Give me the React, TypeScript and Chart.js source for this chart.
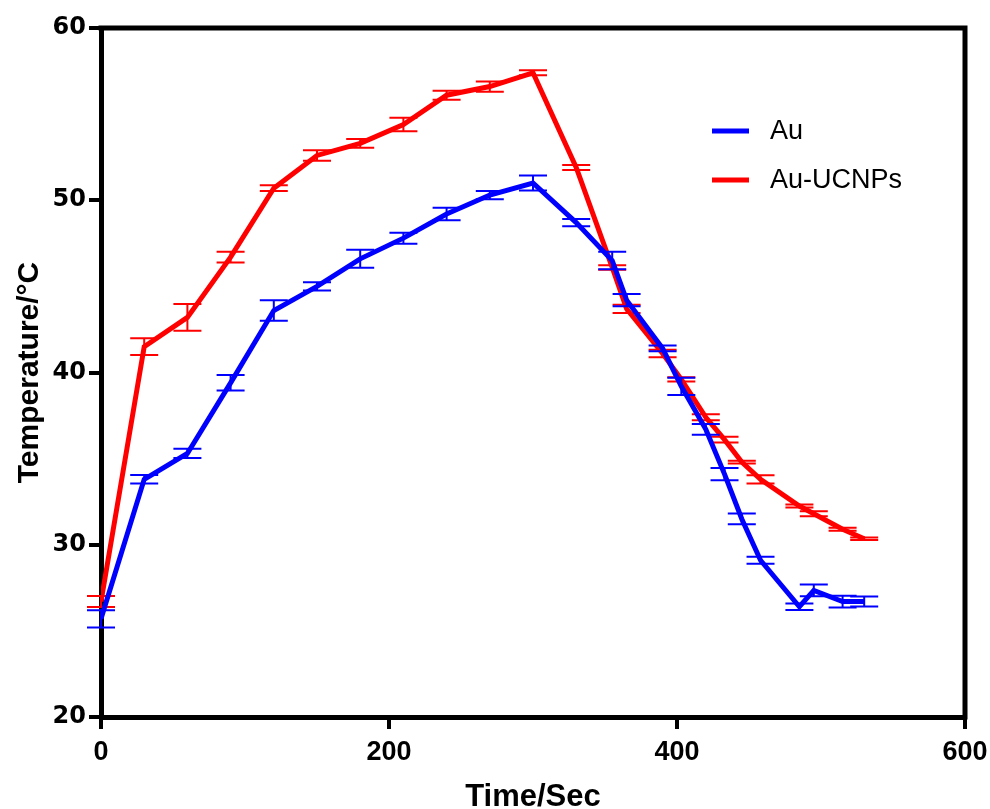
import React, { useEffect, useRef } from "react";
import { Chart, registerables } from "chart.js";

Chart.register(...registerables);

// ---- data ----
const timeSec = [0, 30, 60, 90, 120, 150, 180, 210, 240, 270, 300, 330, 355, 365, 390, 403, 420, 433, 445, 458, 485, 495, 515, 530];
const auTemp = [25.7, 33.8, 35.3, 39.4, 43.6, 45.0, 46.6, 47.8, 49.2, 50.3, 51.0, 48.7, 46.5, 44.2, 41.4, 39.2, 36.7, 34.1, 31.5, 29.1, 26.4, 27.35, 26.7, 26.7];
const auErr = [0.5, 0.25, 0.27, 0.45, 0.6, 0.24, 0.52, 0.32, 0.36, 0.24, 0.44, 0.21, 0.51, 0.36, 0.17, 0.5, 0.31, 0.36, 0.31, 0.21, 0.19, 0.34, 0.34, 0.29];
const ucnpTemp = [26.7, 41.5, 43.2, 46.7, 50.7, 52.6, 53.3, 54.4, 56.1, 56.6, 57.4, 51.9, 46.1, 43.7, 41.1, 39.6, 37.4, 36.1, 34.8, 33.8, 32.25, 31.8, 30.9, 30.35];
const ucnpErr = [0.32, 0.49, 0.77, 0.31, 0.17, 0.3, 0.25, 0.39, 0.26, 0.3, 0.15, 0.15, 0.13, 0.24, 0.22, 0.12, 0.17, 0.17, 0.08, 0.24, 0.09, 0.15, 0.09, 0.07];
const seriesLabels = ["Au", "Au-UCNPs"];
const seriesColors = ["#0000ff", "#ff0000"];
const xTickValues = [0, 200, 400, 600];
const yTickValues = [20, 30, 40, 50, 60];
const xTitle = "Time/Sec";
const yTitle = "Temperature/\u00B0C";

const errorBarPlugin = {
  id: "errorBars",
  afterDatasetDraw(chart: any, args: any) {
    const ds: any = chart.data.datasets[args.index];
    const errs: number[] = ds.errors;
    if (!errs) return;
    const xs = chart.scales.x;
    const ys = chart.scales.y;
    const ctx = chart.ctx;
    ctx.save();
    ctx.strokeStyle = ds.borderColor;
    ctx.lineWidth = 2;
    const half = 14;
    ds.data.forEach((p: any, i: number) => {
      const e = errs[i];
      const px = xs.getPixelForValue(p.x);
      const top = ys.getPixelForValue(p.y + e);
      const bot = ys.getPixelForValue(p.y - e);
      ctx.beginPath();
      ctx.moveTo(px, top);
      ctx.lineTo(px, bot);
      ctx.moveTo(px - half, top);
      ctx.lineTo(px + half, top);
      ctx.moveTo(px - half, bot);
      ctx.lineTo(px + half, bot);
      ctx.stroke();
    });
    ctx.restore();
  },
};

const framePlugin = {
  id: "frame",
  afterDraw(chart: any) {
    const { ctx, chartArea } = chart;
    ctx.save();
    ctx.strokeStyle = "#000";
    ctx.lineWidth = 5;
    ctx.beginPath();
    ctx.moveTo(chartArea.left - 2.5, chartArea.top);
    ctx.lineTo(chartArea.right, chartArea.top);
    ctx.lineTo(chartArea.right, chartArea.bottom + 2.5);
    ctx.stroke();
    ctx.restore();
  },
};

const legendPlugin = {
  id: "innerLegend",
  afterDraw(chart: any) {
    const ctx = chart.ctx;
    const x0 = 712;
    const y0 = 131;
    const rowGap = 49;
    ctx.save();
    ctx.font = "27px 'Liberation Sans', Arial, sans-serif";
    ctx.textBaseline = "middle";
    ctx.textAlign = "left";
    chart.data.datasets.forEach((ds: any, i: number) => {
      const y = y0 + i * rowGap;
      ctx.strokeStyle = ds.borderColor;
      ctx.lineWidth = 5;
      ctx.beginPath();
      ctx.moveTo(x0, y);
      ctx.lineTo(x0 + 37, y);
      ctx.stroke();
      ctx.fillStyle = "#000";
      ctx.fillText(ds.label, x0 + 58, y + 1);
    });
    ctx.restore();
  },
};

export default function App() {
  const ref = useRef<HTMLCanvasElement | null>(null);

  useEffect(() => {
    if (!ref.current) return;
    const mk = (vals: number[]) => timeSec.map((t, i) => ({ x: t, y: vals[i] }));
    const chart = new Chart(ref.current, {
      type: "line",
      data: {
        datasets: [
          {
            label: seriesLabels[0],
            data: mk(auTemp),
            errors: auErr,
            borderColor: seriesColors[0],
            backgroundColor: seriesColors[0],
            borderWidth: 5,
            pointRadius: 0,
            fill: false,
            tension: 0,
          } as any,
          {
            label: seriesLabels[1],
            data: mk(ucnpTemp),
            errors: ucnpErr,
            borderColor: seriesColors[1],
            backgroundColor: seriesColors[1],
            borderWidth: 5,
            pointRadius: 0,
            fill: false,
            tension: 0,
          } as any,
        ],
      },
      options: {
        animation: false,
        responsive: true,
        maintainAspectRatio: false,
        layout: { padding: { top: 28, right: 25, left: 0, bottom: 0 } },
        plugins: {
          legend: { display: false },
          tooltip: { enabled: false },
        },
        scales: {
          x: {
            type: "linear",
            min: 0,
            max: 600,
            afterBuildTicks: (s: any) => {
              s.ticks = xTickValues.map((v) => ({ value: v }));
            },
            afterFit: (s: any) => {
              s.height = 92;
              s.paddingRight = 0;
              s.paddingLeft = 0;
            },
            grid: {
              drawOnChartArea: false,
              drawTicks: true,
              tickLength: 12,
              tickWidth: 4,
              lineWidth: 4,
              color: "#000",
            },
            border: { display: true, width: 5, color: "#000" },
            ticks: {
              color: "#000",
              padding: 7,
              maxRotation: 0,
              font: { family: "'Liberation Sans Narrow', 'Liberation Sans', Arial, sans-serif", weight: "bold", size: 27 },
            },
            title: {
              display: true,
              text: xTitle,
              color: "#000",
              padding: { top: 0, bottom: 0 },
              font: { family: "'Liberation Sans Narrow', 'Liberation Sans', Arial, sans-serif", weight: "bold", size: 31, lineHeight: 0.76 },
            },
          },
          y: {
            type: "linear",
            min: 20,
            max: 60,
            afterBuildTicks: (s: any) => {
              s.ticks = yTickValues.map((v) => ({ value: v }));
            },
            afterFit: (s: any) => {
              s.width = 101;
            },
            grid: {
              drawOnChartArea: false,
              drawTicks: true,
              tickLength: 12,
              tickWidth: 4,
              lineWidth: 4,
              color: "#000",
            },
            border: { display: true, width: 5, color: "#000" },
            ticks: {
              color: "#000",
              padding: 3,
              font: { family: "'DejaVu Sans', sans-serif", weight: "bold", size: 24 },
            },
            title: {
              display: true,
              text: yTitle,
              color: "#000",
              padding: { top: 15, bottom: 0 },
              font: { family: "'Liberation Sans', Arial, sans-serif", weight: "bold", size: 30, lineHeight: 1 },
            },
          },
        },
      },
      plugins: [errorBarPlugin, framePlugin, legendPlugin],
    } as any);
    return () => chart.destroy();
  }, []);

  return (
    <div style={{ position: "absolute", left: 0, top: 0, width: 990, height: 809, background: "#fff" }}>
      <canvas ref={ref} />
    </div>
  );
}
